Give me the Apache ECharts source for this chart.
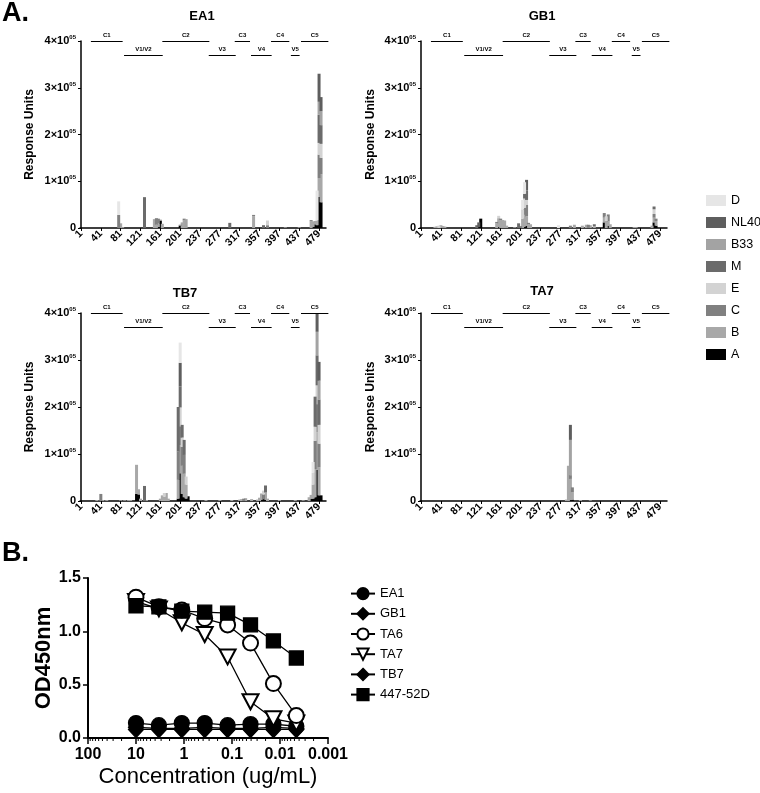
<!DOCTYPE html>
<html><head><meta charset="utf-8">
<script src="https://cdn.jsdelivr.net/npm/echarts@6/dist/echarts.min.js"></script>
<style>html,body{margin:0;padding:0;background:#fff}#c{width:760px;height:793px}</style>
</head><body><div id="c"></div>
<script>
const FONT = '"Liberation Sans", Arial, Helvetica, sans-serif';

// ---------- Panel A: peptide binding (Response Units, in thousands) ----------
const xTickLabels = ['1','41','81','121','161','201','237','277','317','357','397','437','479'];
const nCat = 124;                       // peptide positions on the x axis
const clades = ['A','B','C','E','M','B33','NL40','D'];          // stack order, bottom -> top
const legendOrder = ['D','NL40','B33','M','E','C','B','A'];
const cladeColors = ['#000000','#a8a8a8','#808080','#d3d3d3','#6b6b6b','#a3a3a3','#5e5e5e','#e6e6e6'];
const panelNames = ['EA1','GB1','TB7','TA7'];

// columns: position index, A, B, C, E, M, B33, NL40, D  (kRU)
const EA1_peaks = [
  [19, 0, 0, 28, 0, 0, 0, 0, 29],
  [20, 0, 10, 0, 0, 0, 0, 0, 0],
  [21, 0, 0, 0, 0, 0, 2, 0, 0],
  [32, 0, 0, 0, 0, 66, 0, 0, 0],
  [37, 0, 19, 0, 0, 0, 0, 0, 0],
  [38, 0, 7, 14, 0, 0, 0, 0, 0],
  [39, 2, 8, 10, 0, 0, 0, 0, 0],
  [40, 16, 2, 0, 0, 0, 0, 0, 0],
  [41, 0, 9, 0, 0, 0, 0, 0, 0],
  [50, 5, 0, 2, 0, 0, 0, 0, 0],
  [51, 0, 12, 0, 0, 0, 0, 0, 0],
  [52, 0, 16, 4, 0, 0, 0, 0, 0],
  [53, 0, 0, 0, 0, 0, 19, 0, 0],
  [75, 0, 0, 0, 0, 11, 0, 0, 0],
  [87, 0, 25, 3, 0, 0, 0, 0, 0],
  [92, 0, 0, 0, 0, 6, 0, 0, 0],
  [94, 0, 0, 6, 10, 0, 0, 0, 0],
  [103, 0, 1.5, 0, 0, 0, 0, 0, 0],
  [110, 0, 1.5, 0, 0, 0, 0, 0, 0],
  [116, 0, 14, 3, 0, 0, 0, 0, 0],
  [117, 2, 12, 0, 0, 0, 0, 0, 0],
  [118, 8, 7, 0, 0, 0, 0, 0, 0],
  [119, 6, 10, 0, 0, 0, 0, 0, 64],
  [120, 67, 40, 50, 25, 60, 28, 60, 0],
  [121, 55, 60, 35, 30, 40, 30, 30, 0]
];
const GB1_peaks = [
  [7, 0, 2.5, 0, 0, 0, 0, 0, 0],
  [8, 0, 3.5, 0, 0, 0, 0, 0, 0],
  [9, 0, 0, 0, 5, 0, 0, 0, 0],
  [10, 0, 6, 0, 0, 0, 0, 0, 0],
  [11, 0, 0, 0, 0, 0, 4, 0, 0],
  [12, 0, 3, 0, 0, 0, 0, 0, 0],
  [28, 0, 0, 0, 0, 6, 0, 0, 0],
  [29, 2, 0, 0, 0, 0, 0, 10, 0],
  [30, 20, 0, 0, 0, 0, 0, 0, 0],
  [38, 0, 10, 3, 0, 0, 0, 0, 0],
  [39, 3, 18, 0, 5, 0, 0, 0, 0],
  [40, 0, 17, 3, 0, 0, 0, 0, 0],
  [41, 0, 17, 0, 0, 0, 0, 0, 0],
  [42, 0, 16, 0, 0, 0, 0, 0, 0],
  [43, 0, 5, 0, 0, 0, 0, 0, 0],
  [47, 0, 1.5, 0, 0, 0, 0, 0, 0],
  [49, 0, 0, 0, 0, 10, 0, 0, 0],
  [50, 0, 0, 4, 0, 0, 0, 0, 0],
  [51, 0, 20, 0, 20, 0, 0, 0, 20],
  [52, 3, 25, 15, 20, 10, 0, 0, 25],
  [53, 5, 20, 25, 10, 20, 0, 23, 0],
  [54, 0, 8, 3, 0, 0, 0, 0, 0],
  [55, 0, 8, 0, 0, 0, 0, 0, 0],
  [69, 0, 0, 0, 0, 0, 0, 0, 6],
  [75, 0, 0, 5, 0, 0, 0, 0, 0],
  [77, 0, 7, 0, 0, 0, 0, 0, 0],
  [81, 0, 5, 0, 0, 0, 0, 0, 0],
  [83, 0, 7, 0, 0, 0, 0, 0, 0],
  [84, 0, 0, 7, 0, 0, 0, 0, 0],
  [85, 0, 6, 0, 0, 0, 0, 0, 0],
  [87, 0, 4, 0, 0, 4, 0, 0, 0],
  [92, 12, 10, 10, 0, 0, 0, 0, 0],
  [93, 0, 15, 0, 10, 0, 0, 0, 0],
  [94, 5, 9, 15, 0, 0, 0, 0, 0],
  [95, 0, 8, 0, 0, 0, 0, 0, 0],
  [107, 0, 2, 0, 0, 0, 0, 0, 0],
  [108, 0, 2, 0, 0, 0, 0, 0, 0],
  [116, 0, 5, 0, 0, 0, 0, 0, 0],
  [117, 12, 10, 8, 10, 6, 0, 0, 0],
  [118, 5, 10, 5, 0, 0, 0, 0, 0]
];
const TB7_peaks = [
  [8, 0, 2, 0, 0, 0, 0, 0, 0],
  [10, 0, 0, 15, 0, 0, 0, 0, 0],
  [11, 0, 2, 0, 0, 0, 0, 0, 0],
  [13, 0, 2, 0, 0, 0, 0, 0, 0],
  [20, 0, 1.5, 0, 0, 0, 0, 0, 0],
  [22, 0, 1.5, 0, 0, 0, 0, 0, 0],
  [24, 0, 2, 0, 0, 0, 0, 0, 0],
  [25, 0, 2, 0, 0, 0, 0, 0, 0],
  [28, 15, 62, 0, 0, 0, 0, 0, 0],
  [29, 14, 11, 0, 0, 0, 0, 0, 0],
  [30, 0, 5, 0, 0, 0, 0, 0, 0],
  [32, 0, 0, 0, 0, 32, 0, 0, 0],
  [33, 0, 2, 0, 0, 0, 0, 0, 0],
  [40, 0, 5, 0, 0, 0, 0, 0, 0],
  [41, 0, 12, 0, 0, 0, 0, 0, 0],
  [42, 0, 9, 0, 8, 0, 0, 0, 0],
  [43, 0, 17, 0, 0, 0, 0, 0, 0],
  [44, 0, 5, 0, 0, 0, 0, 0, 0],
  [49, 5, 40, 60, 0, 95, 0, 0, 0],
  [50, 59, 60, 40, 40, 45, 0, 50, 43],
  [51, 15, 60, 40, 20, 27, 0, 0, 0],
  [52, 8, 50, 40, 0, 32, 0, 0, 0],
  [53, 5, 30, 0, 17, 0, 0, 0, 0],
  [54, 10, 0, 0, 0, 0, 0, 0, 0],
  [63, 0, 2, 0, 0, 0, 0, 0, 0],
  [70, 0, 2, 0, 0, 0, 0, 0, 0],
  [76, 0, 2, 0, 0, 0, 0, 0, 0],
  [80, 0, 3, 0, 0, 0, 0, 0, 0],
  [81, 0, 4, 0, 0, 0, 0, 0, 0],
  [82, 0, 0, 5, 0, 0, 0, 0, 0],
  [83, 0, 6, 0, 0, 0, 0, 0, 0],
  [86, 0, 4, 0, 0, 0, 0, 0, 0],
  [89, 0, 3, 0, 0, 0, 0, 0, 0],
  [90, 0, 7, 0, 0, 0, 0, 0, 0],
  [91, 3, 13, 0, 0, 0, 0, 0, 0],
  [92, 4, 0, 10, 8, 0, 0, 0, 0],
  [93, 3, 15, 0, 0, 15, 0, 0, 0],
  [94, 0, 5, 0, 0, 0, 0, 0, 0],
  [100, 0, 2, 0, 0, 0, 0, 0, 0],
  [108, 0, 2, 0, 0, 0, 0, 0, 0],
  [112, 0, 1.5, 0, 0, 0, 0, 0, 0],
  [115, 0, 8, 0, 0, 0, 0, 0, 0],
  [116, 5, 8, 0, 0, 0, 0, 0, 0],
  [117, 5, 30, 0, 25, 0, 0, 0, 23],
  [118, 8, 60, 60, 30, 64, 0, 0, 0],
  [119, 66, 80, 60, 40, 64, 50, 40, 0],
  [120, 12, 60, 50, 40, 54, 40, 40, 0],
  [121, 12, 0, 0, 0, 0, 0, 0, 0]
];
const TA7_peaks = [
  [73, 0, 3, 0, 0, 0, 0, 0, 0],
  [74, 0, 75, 0, 0, 0, 0, 0, 0],
  [75, 2, 45, 8, 0, 0, 75, 32, 0],
  [76, 3, 16, 10, 0, 0, 0, 0, 0],
  [80, 0, 2, 0, 0, 0, 0, 0, 0],
  [85, 0, 1.5, 0, 0, 0, 0, 0, 0]
];
const panelPeaks = [EA1_peaks, GB1_peaks, TB7_peaks, TA7_peaks];

// Env region annotations (in peptide-position units) and their level (kRU)
const regionNames = ['C1','V1/V2','C2','V3','C3','V4','C4','V5','C5'];
const regionStart = [5, 21.7, 41, 64.4, 77.5, 85.7, 95.8, 105.8, 110.9];
const regionEnd   = [21, 41.2, 64.7, 78, 85.2, 96.1, 105, 110.2, 124.7];
const regionLevel = [400, 370, 400, 370, 400, 370, 400, 370, 400];

// ---------- Panel B: ELISA titration ----------
const concentrations = [10, 3.333, 1.111, 0.3704, 0.1235, 0.04115, 0.01372, 0.004572];
const concTickLabels = ['100','10','1','0.1','0.01','0.001'];
const od_EA1  = [0.14, 0.12, 0.14, 0.14, 0.12, 0.13, 0.13, 0.11];
const od_GB1  = [0.10, 0.09, 0.09, 0.10, 0.09, 0.09, 0.10, 0.09];
const od_TA6  = [1.32, 1.23, 1.20, 1.12, 1.06, 0.89, 0.51, 0.21];
const od_TA7  = [1.28, 1.21, 1.08, 0.97, 0.76, 0.34, 0.18, 0.14];
const od_TB7  = [0.08, 0.08, 0.08, 0.08, 0.08, 0.08, 0.08, 0.08];
const od_447  = [1.24, 1.23, 1.19, 1.18, 1.17, 1.06, 0.91, 0.75];
const minorMultipliers = [2,3,4,5,6,7,8,9];
const minorDecades = [0.001, 0.01, 0.1, 1, 10];

// ---------- build ----------
const categories = [];
for (let i = 0; i < nCat; i++) categories.push(i % 10 === 0 && xTickLabels[i/10] ? xTickLabels[i/10] : '#' + i);

const gridsA = [
  {left: 80, top: 41, width: 246, height: 187},
  {left: 420, top: 41, width: 247, height: 187},
  {left: 80, top: 313, width: 246, height: 188},
  {left: 420, top: 313, width: 247, height: 188}
];
const gridB = {left: 88, top: 578, width: 240, height: 160};
const nameGaps = [44, 43, 44, 43];

const xAxes = [], yAxes = [], series = [];
for (let p = 0; p < 4; p++) {
  xAxes.push({
    type: 'category', gridIndex: p, data: categories, boundaryGap: true,
    axisLine: {lineStyle: {color: '#000', width: 1.5}},
    axisTick: {show: true, interval: 9, alignWithLabel: true, length: 3, lineStyle: {color: '#000', width: 1}},
    axisLabel: {interval: 9, rotate: 45, fontSize: 10.5, fontWeight: 'bold', color: '#000', fontFamily: FONT, margin: 4,
      formatter: v => (v.charAt(0) === '#' ? '' : v)},
    splitLine: {show: false}
  });
  yAxes.push({
    type: 'value', gridIndex: p, min: 0, max: 400, interval: 100,
    splitLine: {show: false},
    axisLine: {show: true, lineStyle: {color: '#000', width: 1.5}},
    axisTick: {show: true, length: 3, lineStyle: {color: '#000', width: 1}},
    axisLabel: {margin: 4, color: '#000',
      formatter: v => (v === 0 ? '{n|0}' : '{n|' + (v / 100) + '×10}{s|05}'),
      rich: {
        n: {fontSize: 11, fontWeight: 'bold', fontFamily: FONT, color: '#000', lineHeight: 13},
        s: {fontSize: 6, fontWeight: 'bold', fontFamily: FONT, color: '#000', verticalAlign: 'top', lineHeight: 13}
      }},
    name: 'Response Units', nameLocation: 'middle', nameGap: nameGaps[p],
    nameTextStyle: {fontSize: 12, fontWeight: 'bold', color: '#000', fontFamily: FONT}
  });
}
// log axis for panel B
xAxes.push({
  type: 'log', logBase: 10, gridIndex: 4, min: 0.001, max: 100, inverse: true,
  axisLine: {lineStyle: {color: '#000', width: 2}},
  axisTick: {show: true, length: 6, lineStyle: {color: '#000', width: 1.5}},
  axisLabel: {fontSize: 16, fontWeight: 'bold', color: '#000', fontFamily: FONT, margin: 9,
    formatter: v => concTickLabels[2 - Math.round(Math.log10(v))]},
  splitLine: {show: false},
  name: 'Concentration (ug/mL)', nameLocation: 'middle', nameGap: 28,
  nameTextStyle: {fontSize: 22, color: '#000', fontFamily: FONT}
});
yAxes.push({
  type: 'value', gridIndex: 4, min: 0, max: 1.5, interval: 0.5,
  splitLine: {show: false},
  axisLine: {show: true, lineStyle: {color: '#000', width: 2}},
  axisTick: {show: true, length: 5, lineStyle: {color: '#000', width: 1.5}},
  axisLabel: {fontSize: 16, fontWeight: 'bold', color: '#000', fontFamily: FONT, margin: 7, formatter: v => v.toFixed(1)},
  name: 'OD450nm', nameLocation: 'middle', nameGap: 33,
  nameTextStyle: {fontSize: 22, fontWeight: 'bold', color: '#000', fontFamily: FONT}
});
// hidden value axes for region annotations
for (let p = 0; p < 4; p++) {
  xAxes.push({type: 'value', gridIndex: p, min: -0.5, max: nCat - 0.5, show: false});
}

for (let p = 0; p < 4; p++) {
  const rows = panelPeaks[p];
  clades.forEach((cl, c) => {
    const arr = new Array(nCat).fill(0);
    rows.forEach(r => { arr[r[0]] = r[c + 1] || 0; });
    series.push({
      type: 'bar', name: cl, xAxisIndex: p, yAxisIndex: p, stack: 'panel' + p,
      data: arr, barWidth: 3, itemStyle: {color: cladeColors[c]}, silent: true
    });
  });
  series.push({
    type: 'lines', coordinateSystem: 'cartesian2d', xAxisIndex: 5 + p, yAxisIndex: p,
    silent: true, clip: false, z: 5,
    lineStyle: {color: '#000', width: 1, opacity: 1},
    label: {show: true, position: 'middle', formatter: '{b}', fontSize: 6, fontWeight: 'bold', color: '#000', fontFamily: FONT, distance: 3},
    data: regionNames.map((nm, i) => ({name: nm, coords: [[regionStart[i], regionLevel[i]], [regionEnd[i], regionLevel[i]]]}))
  });
}

// panel B minor log ticks
const minorTicks = [];
minorDecades.forEach(d => minorMultipliers.forEach(m => minorTicks.push(d * m)));
series.push({
  type: 'custom', xAxisIndex: 4, yAxisIndex: 4, silent: true, clip: false,
  data: minorTicks.map(v => [v, 0]),
  renderItem: (params, api) => {
    const pt = api.coord([api.value(0), 0]);
    return {type: 'line', shape: {x1: pt[0], y1: pt[1], x2: pt[0], y2: pt[1] + 3}, style: {stroke: '#000', lineWidth: 1}};
  }
});

const lineBase = {type: 'line', xAxisIndex: 4, yAxisIndex: 4, silent: true, showAllSymbol: true,
  lineStyle: {color: '#000', width: 1.3}, itemStyle: {color: '#000', borderColor: '#000', borderWidth: 1.3}};
const pts = arr => concentrations.map((c, i) => [c, arr[i]]);
series.push(Object.assign({}, lineBase, {name: 'GB1', data: pts(od_GB1), symbol: 'diamond', symbolSize: [15, 16]}));
series.push(Object.assign({}, lineBase, {name: 'TB7', data: pts(od_TB7), symbol: 'diamond', symbolSize: [15, 16]}));
series.push(Object.assign({}, lineBase, {name: 'EA1', data: pts(od_EA1), symbol: 'circle', symbolSize: 15}));
series.push(Object.assign({}, lineBase, {name: 'TA7', data: pts(od_TA7), symbol: 'emptyTriangle', symbolRotate: 180, symbolSize: [16, 15],
  itemStyle: {color: '#000', borderWidth: 1.3}}));
series.push(Object.assign({}, lineBase, {name: 'TA6', data: pts(od_TA6), symbol: 'emptyCircle', symbolSize: 15,
  itemStyle: {color: '#000', borderWidth: 1.3}}));
series.push(Object.assign({}, lineBase, {name: '447-52D', data: pts(od_447), symbol: 'rect', symbolSize: 14}));

const titleTxt = (t, x, y) => ({type: 'text', x: x, y: y, style: {text: t, align: 'center', verticalAlign: 'middle',
  font: 'bold 13px ' + FONT, fill: '#000'}});

const option = {
  animation: false,
  backgroundColor: '#fff',
  grid: gridsA.concat([gridB]),
  xAxis: xAxes,
  yAxis: yAxes,
  legend: [
    {data: legendOrder, orient: 'vertical', left: 701, top: 189, itemWidth: 20, itemHeight: 11, itemGap: 9,
      icon: 'rect', selectedMode: false, textStyle: {fontSize: 12.5, color: '#000', fontFamily: FONT, lineHeight: 13}},
    {data: ['EA1','GB1','TA6','TA7','TB7','447-52D'], orient: 'vertical', left: 345, top: 582, itemWidth: 24, itemHeight: 14,
      itemGap: 7, selectedMode: false, textStyle: {fontSize: 13, color: '#000', fontFamily: FONT}}
  ],
  graphic: [
    {type: 'text', x: 2, y: 0, style: {text: 'A.', font: 'bold 27px ' + FONT, fill: '#000'}},
    {type: 'text', x: 2, y: 540, style: {text: 'B.', font: 'bold 27px ' + FONT, fill: '#000'}},
    titleTxt('EA1', 202, 16), titleTxt('GB1', 542, 16), titleTxt('TB7', 185, 293), titleTxt('TA7', 542, 291)
  ],
  series: series
};
const chart = echarts.init(document.getElementById('c'), null, {renderer: 'canvas'});
chart.setOption(option);
</script>
</body></html>
